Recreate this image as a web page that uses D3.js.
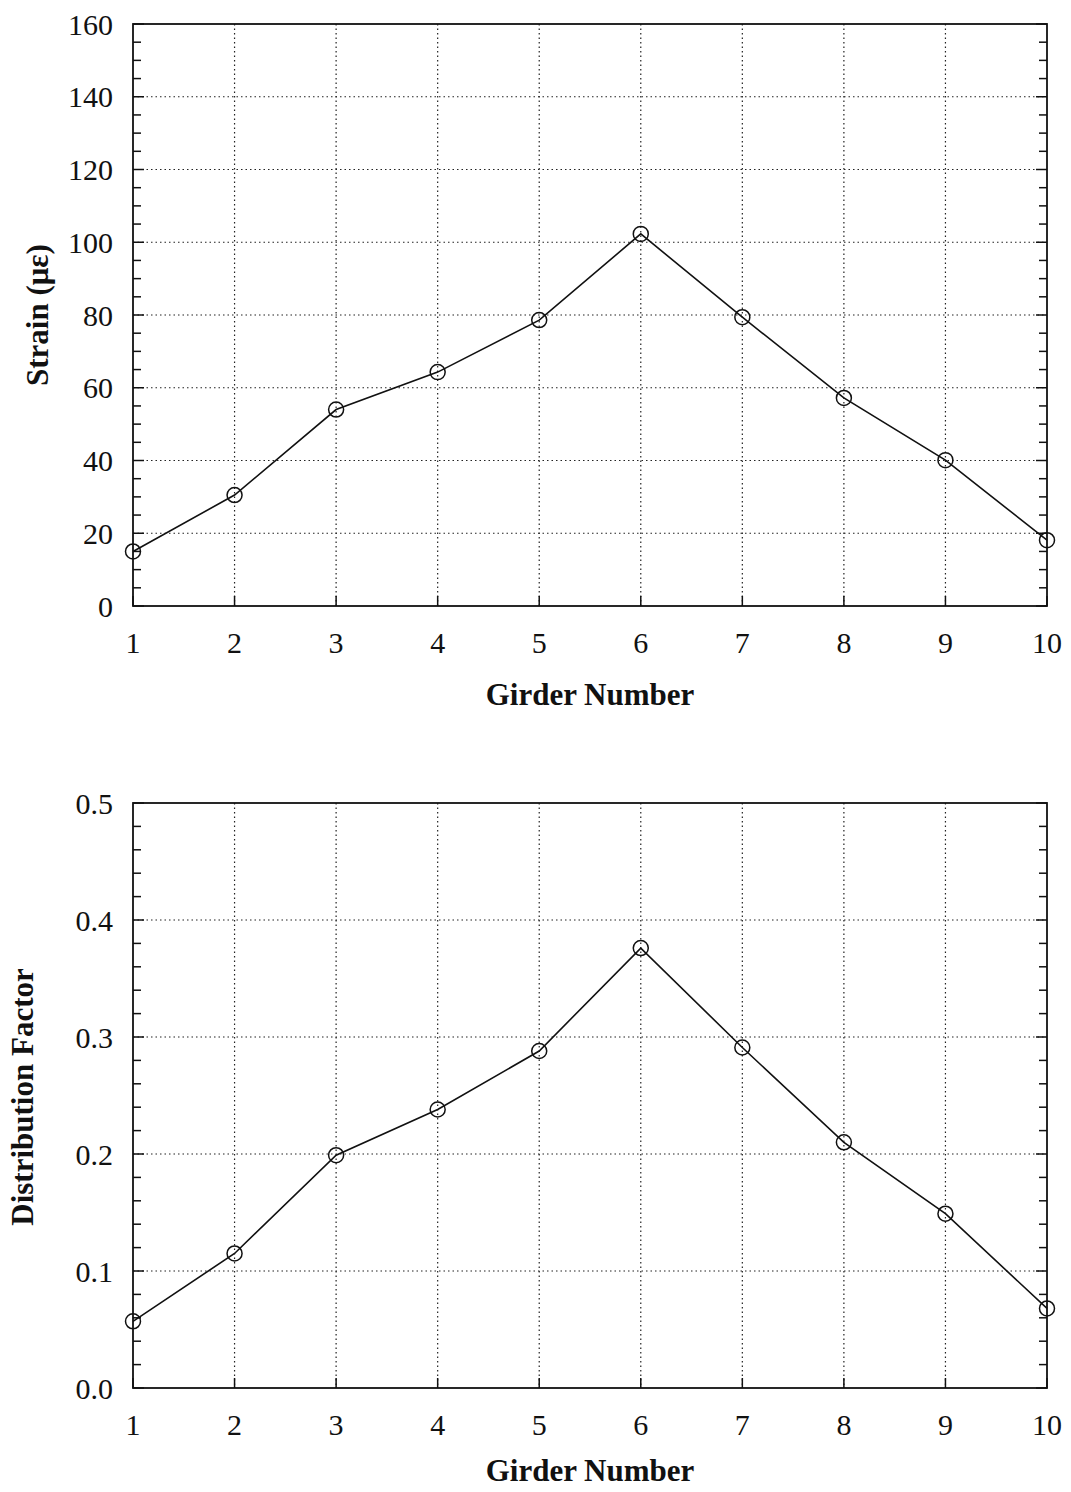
<!DOCTYPE html>
<html>
<head>
<meta charset="utf-8">
<script src="https://cdn.jsdelivr.net/npm/d3@7"></script>
<style>
  body { margin: 0; background: #fff; }
  text { font-family: "Liberation Serif", "Times New Roman", serif; fill: #111; }
</style>
</head>
<body>
<div id="svganchor"></div>
<script>
let width = 1071;
let height = 1492;

// data
let girders = [1, 2, 3, 4, 5, 6, 7, 8, 9, 10];
let strain = [15, 30.5, 54, 64.3, 78.6, 102.3, 79.4, 57.2, 40.1, 18.1];
let distFactor = [0.057, 0.115, 0.199, 0.238, 0.288, 0.376, 0.291, 0.210, 0.149, 0.068];
let strainTicks = [0, 20, 40, 60, 80, 100, 120, 140, 160];
let dfTicks = [0.0, 0.1, 0.2, 0.3, 0.4, 0.5];

let svg = d3.select("#svganchor").append("svg").attr("width", width).attr("height", height);

let xScale = d3.scaleLinear().domain([1, 10]).range([133, 1047]);

function drawPanel(cfg) {
  let y = d3.scaleLinear().domain(cfg.domain).range([cfg.bottom, cfg.top]);
  let g = svg.append("g");

  // dotted grid
  g.selectAll(".vgrid").data(girders.slice(1, -1)).enter().append("line")
    .attr("x1", d => xScale(d)).attr("x2", d => xScale(d))
    .attr("y1", cfg.top).attr("y2", cfg.bottom)
    .attr("stroke", "#222").attr("stroke-width", 1.2).attr("stroke-dasharray", "1.5,3");
  g.selectAll(".hgrid").data(cfg.ticks.slice(1, -1)).enter().append("line")
    .attr("x1", xScale(1)).attr("x2", xScale(10))
    .attr("y1", d => y(d)).attr("y2", d => y(d))
    .attr("stroke", "#222").attr("stroke-width", 1.2).attr("stroke-dasharray", "1.5,3");

  // minor ticks inside on both sides
  let minor = d3.range(cfg.domain[0], cfg.domain[1] + cfg.minorStep / 2, cfg.minorStep);
  [xScale(1), xScale(10)].forEach(function (x0, i) {
    let dir = i === 0 ? 1 : -1;
    g.selectAll(null).data(minor).enter().append("line")
      .attr("x1", x0).attr("x2", d => x0 + dir * (isMajor(d) ? 11 : 8))
      .attr("y1", d => y(d)).attr("y2", d => y(d))
      .attr("stroke", "#111").attr("stroke-width", 1.5);
  });
  function isMajor(v) {
    return cfg.ticks.some(t => Math.abs(t - v) < cfg.minorStep / 10);
  }

  // x major ticks
  g.selectAll(null).data(girders).enter().append("line")
    .attr("x1", d => xScale(d)).attr("x2", d => xScale(d))
    .attr("y1", cfg.bottom).attr("y2", cfg.bottom - 10)
    .attr("stroke", "#111").attr("stroke-width", 1.5);

  // frame
  g.append("rect")
    .attr("x", xScale(1)).attr("y", cfg.top)
    .attr("width", xScale(10) - xScale(1)).attr("height", cfg.bottom - cfg.top)
    .attr("fill", "none").attr("stroke", "#111").attr("stroke-width", 1.8);

  // tick labels
  g.selectAll(null).data(cfg.ticks).enter().append("text")
    .attr("x", 113).attr("y", d => y(d)).attr("dy", "0.35em")
    .attr("text-anchor", "end").attr("font-size", 30)
    .text(cfg.format);
  g.selectAll(null).data(girders).enter().append("text")
    .attr("x", d => xScale(d)).attr("y", cfg.bottom + 47)
    .attr("text-anchor", "middle").attr("font-size", 30)
    .text(d => d);

  // axis titles
  g.append("text")
    .attr("x", (xScale(1) + xScale(10)) / 2).attr("y", cfg.bottom + cfg.xTitleOffset)
    .attr("text-anchor", "middle").attr("font-size", 31).attr("font-weight", "bold")
    .text("Girder Number");
  g.append("text")
    .attr("transform", "translate(" + cfg.titleX + "," + cfg.titleY + ") rotate(-90)")
    .attr("text-anchor", "middle").attr("dy", "0.35em")
    .attr("font-size", 31).attr("font-weight", "bold")
    .text(cfg.title);

  // series
  let pts = girders.map((d, i) => [xScale(d), y(cfg.values[i])]);
  g.append("path")
    .attr("d", d3.line()(pts))
    .attr("fill", "none").attr("stroke", "#111").attr("stroke-width", 1.6);
  g.selectAll(null).data(pts).enter().append("circle")
    .attr("cx", d => d[0]).attr("cy", d => d[1]).attr("r", 7.5)
    .attr("fill", "none").attr("stroke", "#111").attr("stroke-width", 1.5);
}

drawPanel({
  domain: [0, 160], ticks: strainTicks, minorStep: 5,
  top: 24, bottom: 606, values: strain, xTitleOffset: 99,
  format: d => d, title: "Strain (με)", titleX: 37, titleY: 315
});

drawPanel({
  domain: [0, 0.5], ticks: dfTicks, minorStep: 0.02,
  top: 803, bottom: 1388, values: distFactor, xTitleOffset: 93,
  format: d3.format(".1f"), title: "Distribution Factor", titleX: 22, titleY: 1097
});
</script>
</body>
</html>
